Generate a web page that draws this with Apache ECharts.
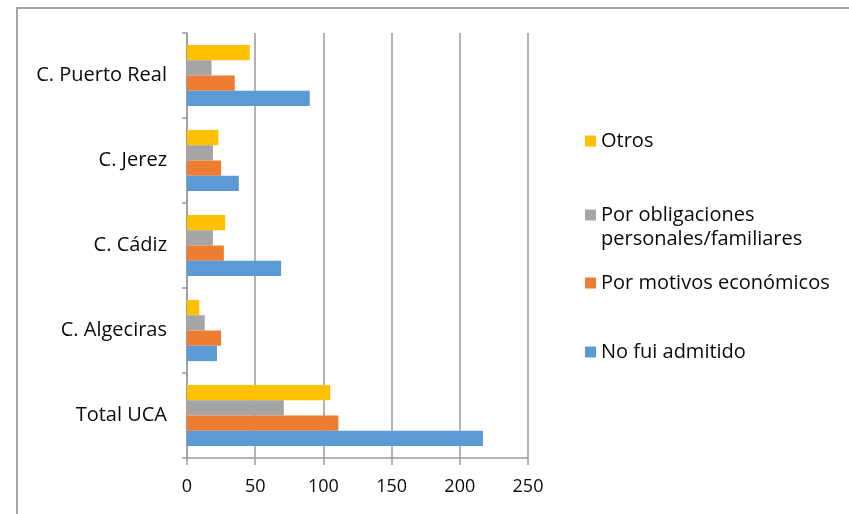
<!DOCTYPE html>
<html><head><meta charset="utf-8">
<script src="https://cdn.jsdelivr.net/npm/echarts@6/dist/echarts.min.js"></script>
<style>html,body{margin:0;padding:0;background:#fff}#c{width:849px;height:514px}</style>
</head><body><div id="c"></div>
<script>
const categories = ['Total UCA', 'C. Algeciras', 'C. Cádiz', 'C. Jerez', 'C. Puerto Real'];
const noAdmitido = [217, 22, 69, 38, 90];
const economicos = [111, 25, 27, 25, 35];
const obligaciones = [71, 13, 19, 19, 18];
const otros = [105, 9, 28, 23, 46];
const xTicks = [0, 50, 100, 150, 200, 250];

const FONT = 'Open Sans';
const TXT = '#0a0a0a';
const chart = echarts.init(document.getElementById('c'));
const mk = (name, data, color) => ({
  name, type: 'bar', data, barGap: '0%', barCategoryGap: '28%',
  itemStyle: { color }, emphasis: { disabled: true }
});
const legendItem = (name, top) => ({
  data: [name], left: 580, top, orient: 'vertical', itemWidth: 11, itemHeight: 11, itemGap: 6,
  icon: 'rect', selectedMode: false,
  formatter: n => n === 'Por obligaciones personales/familiares' ? 'Por obligaciones' : n,
  textStyle: { fontFamily: FONT, fontSize: 20, color: TXT }
});
chart.setOption({
  animation: false,
  backgroundColor: '#fff',
  grid: { left: 187, right: 321, top: 33, bottom: 56 },
  xAxis: {
    type: 'value', min: xTicks[0], max: xTicks[xTicks.length - 1], interval: 50,
    axisLine: { show: true, lineStyle: { color: '#9a9a9a', width: 1.5 } },
    axisTick: { show: true, length: 7, lineStyle: { color: '#9a9a9a', width: 1.5 } },
    axisLabel: { fontFamily: FONT, fontSize: 18, color: TXT, margin: 20 },
    splitLine: { show: true, lineStyle: { color: '#9a9a9a', width: 1.5 } }
  },
  yAxis: {
    type: 'category', data: categories,
    axisLine: { show: true, lineStyle: { color: '#9a9a9a', width: 1.5 } },
    axisTick: { show: true, length: 5, lineStyle: { color: '#9a9a9a', width: 1.5 } },
    axisLabel: { fontFamily: FONT, fontSize: 20, color: TXT, margin: 20 }
  },
  legend: [
    legendItem('Otros', 126),
    legendItem('Por obligaciones personales/familiares', 200),
    legendItem('Por motivos económicos', 268),
    legendItem('No fui admitido', 337)
  ],
  graphic: [
    { type: 'rect', shape: { x: 17, y: 8, width: 900, height: 600 }, style: { fill: 'none', stroke: '#a6a6a6', lineWidth: 2 }, silent: true },
    { type: 'text', left: 601, top: 229, style: { text: 'personales/familiares', font: '20px "Open Sans"', fill: TXT } }
  ],
  series: [
    mk('Otros', otros, '#FFC000'),
    mk('Por obligaciones personales/familiares', obligaciones, '#A5A5A5'),
    mk('Por motivos económicos', economicos, '#ED7D31'),
    mk('No fui admitido', noAdmitido, '#5B9BD5')
  ]
});
</script></body></html>
